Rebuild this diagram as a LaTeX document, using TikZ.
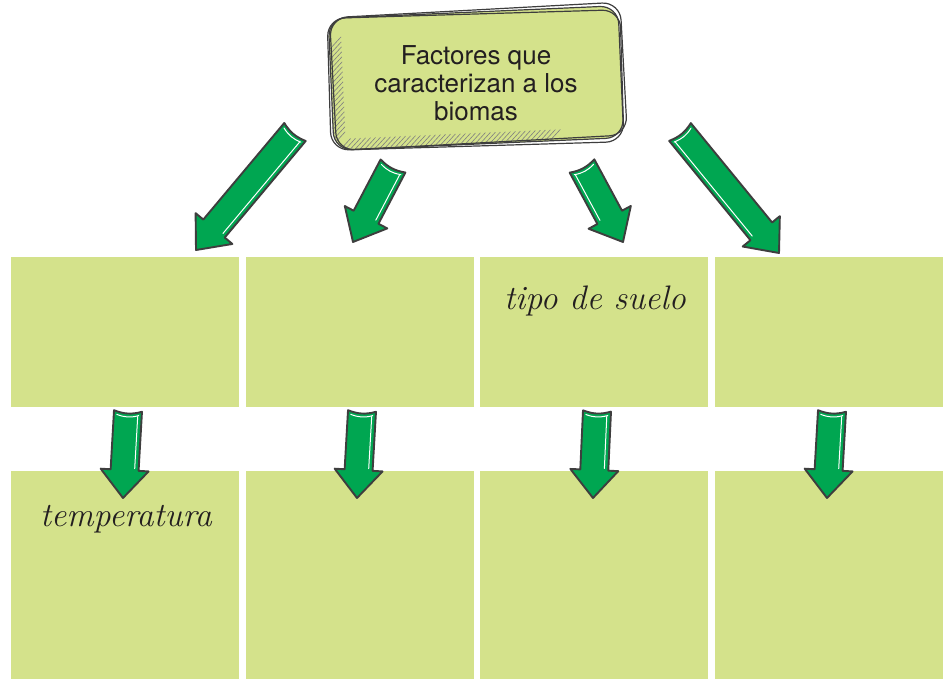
\documentclass[tikz,border=0pt]{standalone}
\usepackage[T1]{fontenc}
\usepackage{fontspec}
\newfontfamily\titlefont{TeX Gyre Heros}
\IfFileExists{frcursive.sty}{\usepackage{frcursive}\newcommand\handfont{\cursive}}{\newcommand\handfont{\itshape}}
\usepackage{xcolor}
\usepackage{tikz}
\usetikzlibrary{calc}

\definecolor{boxgreen}{RGB}{212,226,139}
\definecolor{arrowgreen}{RGB}{0,166,81}
\definecolor{inkgray}{RGB}{62,62,62}
\definecolor{textgray}{RGB}{35,31,32}

\tikzset{
  cell/.style={fill=boxgreen, minimum width=228pt, inner sep=0pt, outer sep=0pt},
  blockarrow/.style={draw=inkgray, fill=arrowgreen, line width=1.9pt, line join=round},
  shine/.style={white, line width=1pt, line cap=round},
  sketch/.style={draw=inkgray, line width=1.2pt, rounded corners=18pt},
  hatch/.style={draw=gray, line width=0.6pt},
  hand/.style={font=\handfont\fontsize{34}{38}\selectfont, text=textgray, anchor=base},
}

% block arrow from tail #2 to tip #3, #1 = side of the white line
\newcommand\bigarrow[3][90]{%
  \coordinate (ah) at ($(#3)!28pt!(#2)$);
  \draw[blockarrow] ($(#2)!14pt!-90:(#3)$) to[bend right=18] ($(#2)!14pt!90:(#3)$)
    -- ($(ah)!14pt!90:(#3)$) -- ($(ah)!24pt!90:(#3)$) -- (#3)
    -- ($(ah)!24pt!-90:(#3)$) -- ($(ah)!14pt!-90:(#3)$) -- cycle;
  \draw[shine] ($($(#2)!5pt!(#3)$)!10pt!#1:(#3)$) -- ($($(ah)!2pt!(#2)$)!10pt!#1:(#3)$);
  \draw[shine] ($($(#2)!4pt!(#3)$)!11pt!-90:(#3)$) to[bend right=18] ($($(#2)!4pt!(#3)$)!11pt!90:(#3)$);
}

\begin{document}
\begin{tikzpicture}[x=1pt, y=-1pt]
      \useasboundingbox (0,0) rectangle (944,679);
      \node[cell, minimum height=150pt] (T1) at (125,332) {};
      \node[cell, minimum height=150pt] (T2) at (360,332) {};
      \node[cell, minimum height=150pt] (T3) at (594,332) {};
      \node[cell, minimum height=150pt] (T4) at (829,332) {};
      \node[cell, minimum height=208pt] (B1) at (125,575) {};
      \node[cell, minimum height=208pt] (B2) at (360,575) {};
      \node[cell, minimum height=208pt] (B3) at (594,575) {};
      \node[cell, minimum height=208pt] (B4) at (829,575) {};
      \node[hand] (soil) at (595,309) {tipo de suelo};
      \node[hand] (temp) at (126,526) {temperatura};
      % sketched title box
      \begin{scope}[shift={(476,78)}, rotate=2.5]
        \fill[boxgreen, rounded corners=18pt] (-145,-66) rectangle (145,66);
        \begin{scope}
          \clip[rounded corners=18pt] (-145,-66) rectangle (145,66);
          \foreach \y in {-34,-29,...,64} \draw[hatch] (-146,\y) -- ++(13,-13);
          \foreach \x in {-140,-135,...,72} \draw[hatch] (\x,67) -- ++(12,-12);
        \end{scope}
        \draw[sketch] (-145,-66) rectangle (145,66);
        \draw[sketch, rotate=-0.8] (-147,-64) rectangle (146,68);
        \draw[sketch, rotate=0.6] (-143,-68) rectangle (148,65);
      \end{scope}
      \node[font=\titlefont\fontsize{26}{28}\selectfont, text=textgray, align=center] (F) at (476,83)
        {Factores que\\caracterizan a los\\biomas};
      % arrow ends
      \coordinate (s1) at (295,132); \coordinate (e1) at (196,250);
      \coordinate (s2) at (393,166); \coordinate (e2) at (353,242);
      \coordinate (s3) at (582,166); \coordinate (e3) at (623,242);
      \coordinate (s4) at (680,132); \coordinate (e4) at (779,253);
      \coordinate (u1) at (128,411); \coordinate (v1) at (123,498);
      \coordinate (u2) at (362,411); \coordinate (v2) at (357,498);
      \coordinate (u3) at (597,411); \coordinate (v3) at (593,498);
      \coordinate (u4) at (832,411); \coordinate (v4) at (827,498);
      \bigarrow{s1}{e1}
      \bigarrow{s2}{e2}
      \bigarrow[-90]{s3}{e3}
      \bigarrow[-90]{s4}{e4}
      \bigarrow{u1}{v1}
      \bigarrow{u2}{v2}
      \bigarrow{u3}{v3}
      \bigarrow{u4}{v4}
    \end{tikzpicture}
\end{document}
